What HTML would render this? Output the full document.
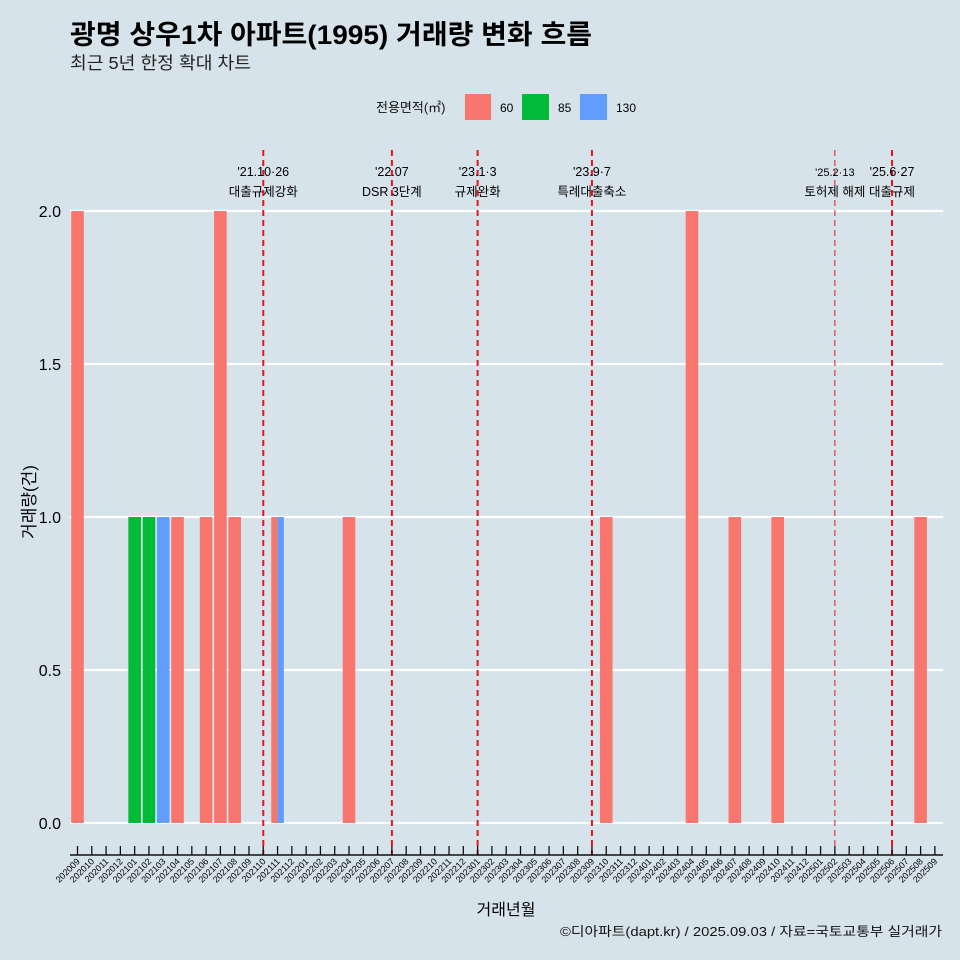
<!DOCTYPE html>
<html><head><meta charset="utf-8"><style>
body{margin:0;background:#d6e3ea;}
svg{display:block;font-family:"Liberation Sans","Noto Sans CJK KR",sans-serif;}
</style></head><body>
<svg id="chart" width="960" height="960" viewBox="0 0 960 960">
<rect width="960" height="960" fill="#d6e3ea"/>
<text x="70" y="44" font-size="27" font-weight="bold" fill="#000" textLength="522" lengthAdjust="spacingAndGlyphs">광명 상우1차 아파트(1995) 거래량 변화 흐름</text>
<text x="70" y="69" font-size="17.5" fill="#222" textLength="181" lengthAdjust="spacingAndGlyphs">최근 5년 한정 확대 차트</text>
<g>
<text x="376" y="112" font-size="13" fill="#111">전용면적(㎡)</text>
<rect x="465" y="94" width="26" height="26" fill="#f8766d"/>
<text x="500" y="112" font-size="12">60</text>
<rect x="522" y="94" width="27" height="26" fill="#00ba38"/>
<text x="558" y="112" font-size="12">85</text>
<rect x="580" y="94" width="27" height="26" fill="#619cff"/>
<text x="616" y="112" font-size="12">130</text>
</g>
<g id="plot"></g>
<text x="506" y="915" font-size="16" text-anchor="middle">거래년월</text>
<text transform="translate(35,502) rotate(-90)" font-size="17" text-anchor="middle">거래량(건)</text>
<text x="942" y="936" font-size="13" text-anchor="end" fill="#111" textLength="382" lengthAdjust="spacingAndGlyphs">©디아파트(dapt.kr) / 2025.09.03 / 자료=국토교통부 실거래가</text>
</svg>
<script>
const months = [];
for (let y = 2020; y <= 2025; y++) for (let m = 1; m <= 12; m++) {
  const k = y * 100 + m;
  if (k >= 202009 && k <= 202509) months.push(String(k));
}
const sizes = ["60", "85", "130"];
const colors = {"60": "#f8766d", "85": "#00ba38", "130": "#619cff"};
const s60 = {"202009": 2, "202104": 1, "202106": 1, "202107": 2, "202108": 1, "202111": 1, "202204": 1, "202310": 1, "202404": 2, "202407": 1, "202410": 1, "202508": 1};
const s85 = {"202101": 1, "202102": 1};
const s130 = {"202103": 1, "202111": 1};
const yTicks = [0, 0.5, 1, 1.5, 2];
const events = [
  {m: "202110", d: "'21.10·26", t: "대출규제강화", thin: false},
  {m: "202207", d: "'22.07", t: "DSR 3단계", thin: false},
  {m: "202301", d: "'23.1·3", t: "규제완화", thin: false},
  {m: "202309", d: "'23.9·7", t: "특례대출축소", thin: false},
  {m: "202502", d: "'25.2·13", t: "토허제 해제", thin: true},
  {m: "202506", d: "'25.6·27", t: "대출규제", thin: false}
];
const NS = "http://www.w3.org/2000/svg";
const g = document.getElementById("plot");
const x0 = 77.5, step = 14.29;
const xs = m => x0 + months.indexOf(m) * step;
const ys = v => 823 - v * 306;
function mk(tag, attrs) { const e = document.createElementNS(NS, tag); for (const k in attrs) e.setAttribute(k, attrs[k]); g.appendChild(e); return e; }
yTicks.forEach(v => {
  const l = mk("line", {x1: 70, x2: 943, y1: ys(v), y2: ys(v), stroke: "#fff", "stroke-width": 2.2});
  
  
  const t = mk("text", {x: 61, y: ys(v) + 6, "font-size": 16, "text-anchor": "end"});
  t.textContent = v.toFixed(1);
  
  
});
const bw = 12.6;
months.forEach(m => {
  const present = [];
  if (s60[m]) present.push(["60", s60[m]]);
  if (s85[m]) present.push(["85", s85[m]]);
  if (s130[m]) present.push(["130", s130[m]]);
  const w = bw / (present.length || 1);
  present.forEach((p, i) => {
    const r = mk("rect", {x: xs(m) - bw / 2 + i * w, y: ys(p[1]), width: w, height: ys(0) - ys(p[1]), fill: colors[p[0]]});
    
    
  });
});
events.forEach(e => {
  const x = xs(e.m);
  const l = mk("line", {x1: x, x2: x, y1: 150, y2: 855, stroke: "#e8141c", "stroke-width": e.thin ? 1 : 2, "stroke-dasharray": "6,4"});
  
  
  const t1 = mk("text", {x: x, y: 176, "font-size": e.thin ? 11 : 12.5, "text-anchor": "middle"});
  t1.textContent = e.d;
  
  
  const t2 = mk("text", {x: x, y: 196, "font-size": 12.5, "text-anchor": "middle"});
  t2.textContent = e.t;
  
  
});
const ax = mk("line", {x1: 70, x2: 943, y1: 855, y2: 855, stroke: "#111", "stroke-width": 1.5});


months.forEach(m => {
  const x = xs(m);
  const tk = mk("line", {x1: x, x2: x, y1: 846, y2: 855, stroke: "#111", "stroke-width": 1.3});
  
  
  const t = mk("text", {x: x + 3, y: 862, "font-size": 9, "text-anchor": "end", transform: `rotate(-45 ${x + 3} 862)`});
  t.textContent = m;
  
  
});
</script>
</body></html>
